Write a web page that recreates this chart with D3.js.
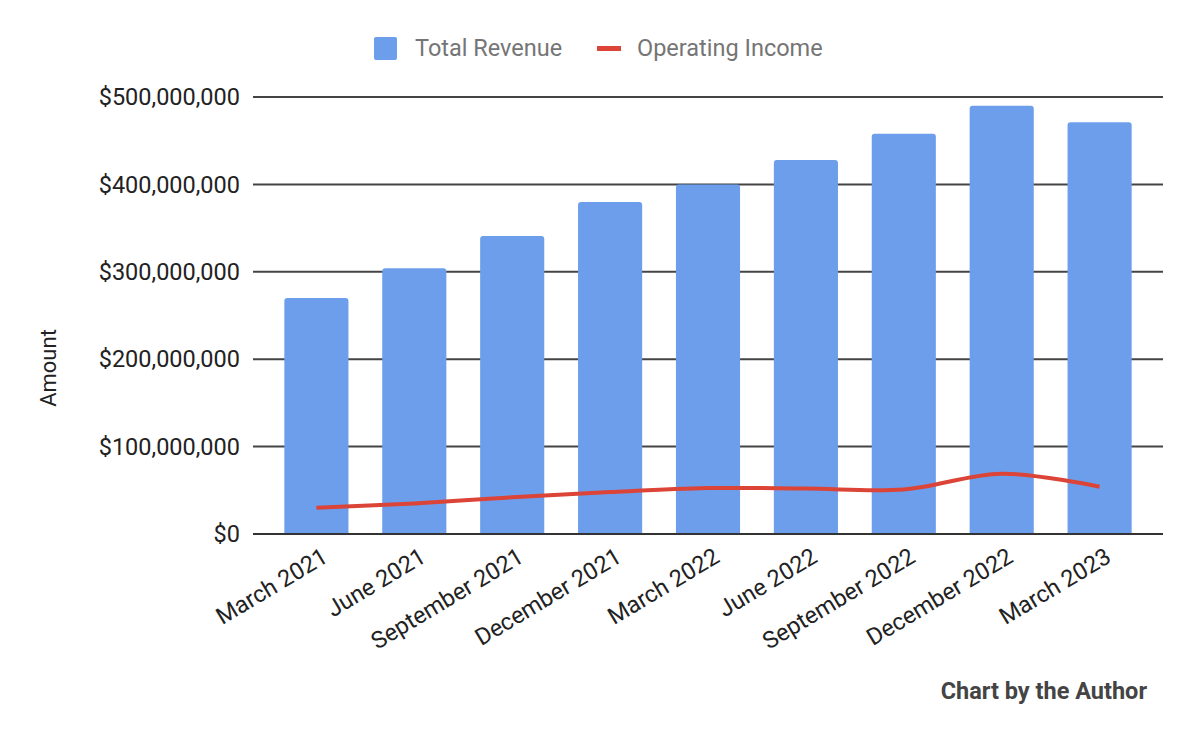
<!DOCTYPE html>
<html><head><meta charset="utf-8">
<script src="https://cdn.jsdelivr.net/npm/d3@7"></script>
<style>body{margin:0;background:#fff}svg{display:block;font-family:Roboto,"Noto Sans",sans-serif}</style>
</head><body><svg id="c" width="1200" height="741"></svg>
<script>
const categories = ["March 2021","June 2021","September 2021","December 2021","March 2022","June 2022","September 2022","December 2022","March 2023"];
const totalRevenue = [270000000,304000000,341000000,380000000,400000000,428000000,458000000,490000000,471000000];
const operatingIncome = [30000000,35000000,42000000,48000000,52500000,52000000,51000000,69000000,54000000];
const yTicks = [0,100000000,200000000,300000000,400000000,500000000];
const seriesNames = ["Total Revenue","Operating Income"];

const svg = d3.select("#c");
const pLeft = 253, pRight = 1163, pTop = 97, pBottom = 534;
const FS = 23.5;
const x = d3.scaleBand().domain(categories).range([pLeft,pRight]).paddingInner(0.345).paddingOuter(0.32);
const y = d3.scaleLinear().domain([0,500000000]).range([pBottom,pTop]);
const fmt = v => "$" + d3.format(",")(v);

// gridlines
svg.append("g").selectAll("line").data(yTicks.filter(d=>d>0)).join("line")
  .attr("x1",pLeft).attr("x2",pRight).attr("y1",d=>y(d)).attr("y2",d=>y(d))
  .attr("stroke","#444").attr("stroke-width",2);

// y labels
svg.append("g").selectAll("text").data(yTicks).join("text")
  .attr("x",240).attr("y",d=>y(d)).attr("dy","0.35em").attr("text-anchor","end")
  .attr("font-size",FS).attr("fill","#222").text(fmt);

// bars
const bw = x.bandwidth(), r = 3;
svg.append("g").selectAll("path").data(categories).join("path")
  .attr("fill","#6d9eeb")
  .attr("d",(c,i)=>{
    const x0 = x(c), y0 = y(totalRevenue[i]), yb = y(0);
    return `M${x0},${yb}V${y0+r}Q${x0},${y0} ${x0+r},${y0}H${x0+bw-r}Q${x0+bw},${y0} ${x0+bw},${y0+r}V${yb}Z`;
  });

// baseline
svg.append("line").attr("x1",pLeft).attr("x2",pRight).attr("y1",y(0)).attr("y2",y(0))
  .attr("stroke","#333").attr("stroke-width",2);

// line
const line = d3.line().x((d,i)=>x(categories[i])+bw/2).y(d=>y(d)).curve(d3.curveCatmullRom.alpha(0.5));
svg.append("path").datum(operatingIncome).attr("d",line)
  .attr("fill","none").attr("stroke","#db4437").attr("stroke-width",4);

// x labels
svg.append("g").selectAll("text").data(categories).join("text")
  .attr("transform",c=>`translate(${x(c)+bw/2+13},${561}) rotate(-31)`)
  .attr("text-anchor","end").attr("font-size",FS).attr("fill","#222").text(c=>c);

// axis title
svg.append("text").attr("transform","translate(56,368) rotate(-90)").attr("text-anchor","middle")
  .attr("font-size",22).attr("fill","#222").text("Amount");

// legend
const lg = svg.append("g");
lg.append("rect").attr("x",374).attr("y",37).attr("width",23).attr("height",23).attr("rx",2).attr("fill","#6d9eeb");
lg.append("text").attr("x",415).attr("y",48).attr("dy","0.35em").attr("font-size",FS).attr("fill","#757575").text(seriesNames[0]);
lg.append("rect").attr("x",597).attr("y",46).attr("width",24).attr("height",5).attr("fill","#db4437");
lg.append("text").attr("x",637).attr("y",48).attr("dy","0.35em").attr("font-size",FS).attr("fill","#757575").text(seriesNames[1]);

// footer
svg.append("text").attr("x",1147).attr("y",699).attr("text-anchor","end").attr("font-size",FS)
  .attr("font-weight","bold").attr("fill","#444").text("Chart by the Author");
</script></body></html>
